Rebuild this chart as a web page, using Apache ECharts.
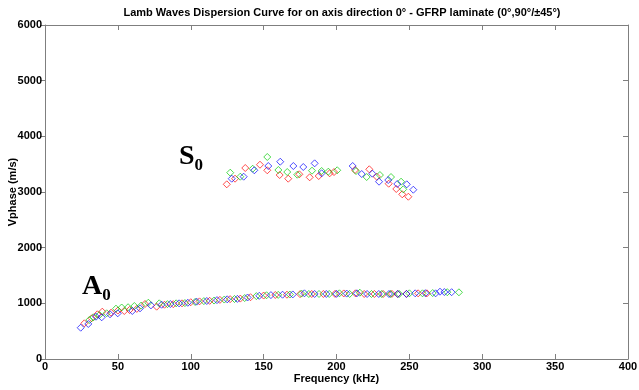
<!DOCTYPE html>
<html>
<head>
<meta charset="utf-8">
<script src="https://cdn.jsdelivr.net/npm/echarts@6/dist/echarts.min.js"></script>
<style>html,body{margin:0;padding:0;background:#fff}#c{width:639px;height:390px}</style>
</head>
<body>
<div id="c"></div>
<script>
const titleText = 'Lamb Waves Dispersion Curve for on axis direction 0\u00b0 - GFRP laminate (0\u00b0,90\u00b0/\u00b145\u00b0)';
const xName = 'Frequency (kHz)';
const yName = 'Vphase (m/s)';
const xTicks = [0, 50, 100, 150, 200, 250, 300, 350, 400];
const yTicks = [0, 1000, 2000, 3000, 4000, 5000, 6000];

// S0 mode points [kHz, m/s]
const s0Red = [[124.7,3138],[130.4,3239],[137.4,3431],[147.5,3490],[152.5,3390],[161.0,3305],[166.9,3239],[174.5,3318],[181.6,3264],[187.8,3287],[195.3,3336],[198.3,3359],[212.7,3395],[222.5,3408],[227.6,3275],[235.8,3149],[241.0,3054],[245.1,2959],[249.3,2915]];
const s0Green = [[127.1,3347],[134.0,3275],[142.5,3418],[152.5,3629],[160.1,3395],[166.2,3359],[173.1,3311],[183.2,3383],[189.8,3377],[194.4,3365],[200.5,3390],[213.4,3377],[220.7,3269],[229.8,3305],[237.4,3269],[244.3,3185],[245.8,3048]];
const s0Blue = [[128.1,3239],[136.3,3275],[143.6,3390],[153.2,3467],[161.4,3544],[170.4,3467],[177.2,3449],[185.0,3515],[189.8,3336],[211.1,3467],[217.3,3323],[224.6,3329],[229.2,3185],[235.5,3215],[241.7,3144],[248.2,3138],[252.7,3041]];

// A0 mode points [kHz, m/s]
const a0Red = [[27,641],[32,731],[35.9,803],[39.3,850],[45.3,832],[50,870],[54.4,862],[58,880],[63,900],[68.6,988],[76.6,940],[82,975],[88,985],[94,1000],[100,1020],[106,1035],[113,1045],[120,1062],[127,1075],[134,1085],[141,1110],[150,1140],[158,1150],[166,1155],[175,1165],[183,1168],[191,1168],[199,1170],[205,1178],[213,1180],[219,1168],[226,1168],[232,1168],[238,1170],[242,1168],[248,1170],[256,1180],[262,1180]];
const a0Green = [[30.4,700],[33.2,749],[37.3,790],[42.3,821],[48.7,904],[52.6,925],[57,930],[61.3,952],[66,960],[70.9,1011],[78.4,1000],[84,985],[90,1000],[96,1005],[103,1025],[109,1040],[116,1050],[123,1068],[130,1078],[137,1095],[145,1130],[152,1145],[160,1152],[168,1158],[176,1175],[181,1168],[188,1168],[195,1168],[202,1180],[209,1168],[216,1191],[224,1168],[231,1168],[237,1168],[243,1168],[250,1180],[259,1180],[266,1185],[276,1200],[284,1198]];
const a0Blue = [[24.5,562],[29.7,629],[35,760],[38.9,749],[44.6,803],[49.9,821],[59.9,862],[65.2,910],[72.7,964],[80,975],[86,988],[92,1000],[98,1010],[104,1030],[111,1042],[118,1058],[125,1072],[132,1080],[139,1105],[147,1135],[155,1148],[163,1155],[170,1160],[178,1180],[185,1168],[193,1168],[200,1170],[207,1175],[214,1180],[221,1168],[229,1168],[236,1168],[242,1168],[248,1168],[254,1180],[261,1182],[268,1180],[271,1209],[274,1203],[279,1200]];

const chart = echarts.init(document.getElementById('c'));
const FONT = 'Liberation Sans';
const axisLineStyle = {color: '#7f7f7f', width: 1};
function scat(data, color) {
  return {
    type: 'scatter', data: data, symbol: 'diamond', symbolSize: 7,
    itemStyle: {color: 'rgba(0,0,0,0)', borderColor: color, borderWidth: 1, opacity: 0.7},
    emphasis: {disabled: true}, silent: true, animation: false
  };
}
const plain = v => String(v);
chart.setOption({
  animation: false,
  title: {text: titleText, left: 337, top: 2, textAlign: 'center',
    textStyle: {fontFamily: FONT, fontSize: 11, fontWeight: 'bold', color: '#000'}},
  grid: {left: 45, right: 11, top: 25, bottom: 31, containLabel: false, outerBoundsMode: 'none'},
  xAxis: [{
    type: 'value', min: 0, max: 400, interval: 50, position: 'bottom',
    name: xName, nameLocation: 'middle', nameGap: 14, nameMoveOverlap: false,
    nameTextStyle: {fontFamily: FONT, fontSize: 11, fontWeight: 'bold', color: '#000'},
    axisLine: {show: true, onZero: false, lineStyle: axisLineStyle},
    axisTick: {show: true, inside: true, length: 5, lineStyle: axisLineStyle},
    axisLabel: {fontFamily: FONT, fontSize: 11, fontWeight: 'bold', color: '#000', margin: 2, formatter: plain},
    splitLine: {show: false}
  }, {
    type: 'value', min: 0, max: 400, interval: 50, position: 'top',
    axisLine: {show: true, onZero: false, lineStyle: axisLineStyle},
    axisTick: {show: true, inside: true, length: 5, lineStyle: axisLineStyle},
    axisLabel: {show: false}, splitLine: {show: false}
  }],
  yAxis: [{
    type: 'value', min: 0, max: 6000, interval: 1000, position: 'left',
    name: yName, nameLocation: 'middle', nameGap: 27, nameRotate: 90, nameMoveOverlap: false,
    nameTextStyle: {fontFamily: FONT, fontSize: 11, fontWeight: 'bold', color: '#000'},
    axisLine: {show: true, onZero: false, lineStyle: axisLineStyle},
    axisTick: {show: true, inside: false, length: 5, lineStyle: axisLineStyle},
    axisLabel: {fontFamily: FONT, fontSize: 11, fontWeight: 'bold', color: '#000', margin: 3, formatter: plain},
    splitLine: {show: false}
  }, {
    type: 'value', min: 0, max: 6000, interval: 1000, position: 'right',
    axisLine: {show: true, onZero: false, lineStyle: axisLineStyle},
    axisTick: {show: true, inside: true, length: 5, lineStyle: axisLineStyle},
    axisLabel: {show: false}, splitLine: {show: false}
  }],
  series: [
    scat(s0Red, '#ff0000'), scat(s0Green, '#00cc00'), scat(s0Blue, '#0000ff'),
    scat(a0Red, '#ff0000'), scat(a0Green, '#00cc00'), scat(a0Blue, '#0000ff')
  ],
  graphic: [
    {type: 'text', left: 179, top: 143, style: {text: '{m|S}{s|0}', rich: {
      m: {fontFamily: 'Liberation Serif', fontSize: 28, fontWeight: 'bold', fill: '#000', verticalAlign: 'bottom'},
      s: {fontFamily: 'Liberation Serif', fontSize: 17, fontWeight: 'bold', fill: '#000', verticalAlign: 'bottom', padding: [0,0,-3,0]}}}},
    {type: 'text', left: 82, top: 273, style: {text: '{m|A}{s|0}', rich: {
      m: {fontFamily: 'Liberation Serif', fontSize: 28, fontWeight: 'bold', fill: '#000', verticalAlign: 'bottom'},
      s: {fontFamily: 'Liberation Serif', fontSize: 17, fontWeight: 'bold', fill: '#000', verticalAlign: 'bottom', padding: [0,0,-3,0]}}}}
  ]
});
</script>
</body>
</html>
